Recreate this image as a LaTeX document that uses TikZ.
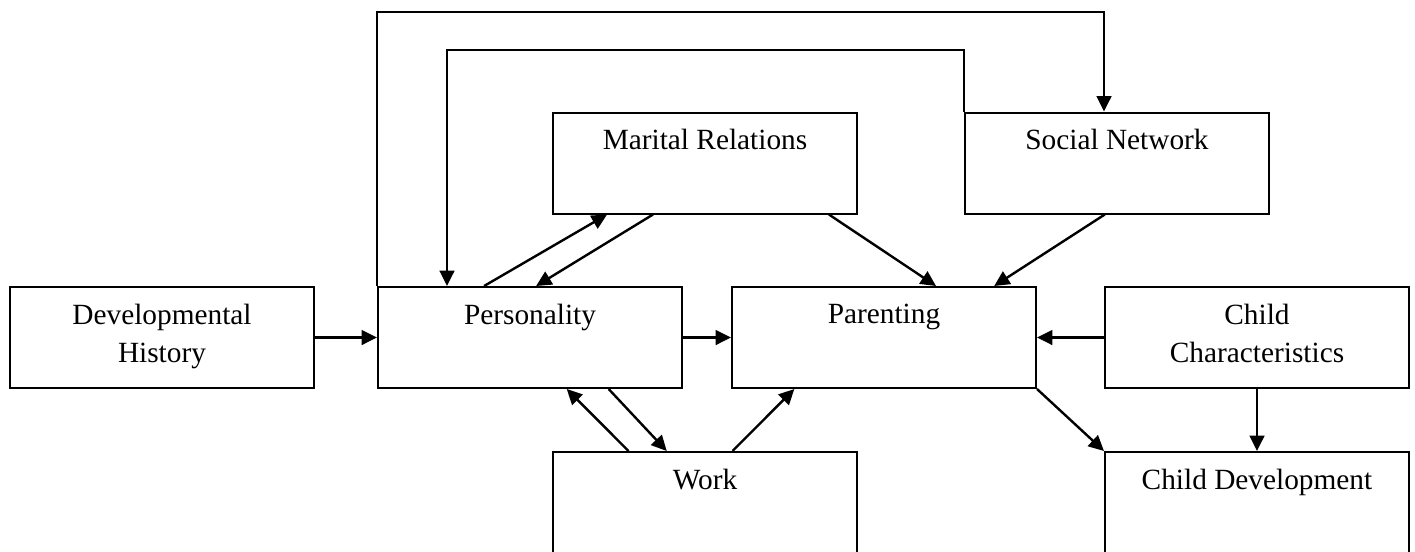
\documentclass[tikz,border=0pt]{standalone}
\usepackage{fontspec}
\setmainfont{Liberation Serif}
\usetikzlibrary{arrows.meta,calc}
\tikzset{every picture/.style={line width=0.75pt}}
\tikzset{
  factor/.style={draw, rectangle, line width=1.5pt, inner sep=0pt, minimum width=228pt, minimum height=75.75pt},
  factortext/.style={anchor=north, inner sep=0pt, align=center, font=\fontsize{22}{29}\selectfont},
  link/.style={line width=1.8pt, -{Triangle[length=11.5pt,width=11pt]}}
}

\begin{document}
\begin{tikzpicture}[x=0.75pt,y=0.75pt,yscale=-1,xscale=1]
\useasboundingbox (0,0) rectangle (1415,551);

%Shape: Boxes
\node[factor] (dev) at (162,337.5) {};
\node[factor] (pers) at (530,337.5) {};
\node[factor] (par) at (884,337.5) {};
\node[factor] (chr) at (1257,337.5) {};
\node[factor] (mar) at (705,163) {};
\node[factor] (soc) at (1117,163) {};
\node[factor, anchor=north, minimum height=79pt] (work) at (705,451) {};
\node[factor, anchor=north, minimum height=79pt] (cdev) at (1257,451) {};

% Text Nodes
\node[factortext] (devT) at ($(dev.north)+(0,17.3)$) {Developmental\\History};
\node[factortext] (persT) at ($(pers.north)+(0,17.3)$) {Personality};
\node[factortext] (parT) at ($(par.north)+(0,17.3)$) {Parenting};
\node[factortext] (chrT) at ($(chr.north)+(0,17.3)$) {Child\\Characteristics};
\node[factortext] (marT) at ($(mar.north)+(0,17.3)$) {Marital Relations};
\node[factortext] (socT) at ($(soc.north)+(0,17.3)$) {Social Network};
\node[factortext] (workT) at ($(work.north)+(0,17.3)$) {Work};
\node[factortext] (cdevT) at ($(cdev.north)+(0,17.3)$) {Child Development};

%Straight Lines
\draw[link] (dev.east) -- (pers.west);
\draw[link] (pers.east) -- (par.west);
\draw[link] (chr.west) -- (par.east);
\draw[link] (chr.south) -- (cdev.north);
\draw[link] (par.south east) -- (cdev.north west);
\draw[link] ($(pers.north west)!.35!(pers.north east)$) -- ($(mar.south west)!.18!(mar.south east)$);
\draw[link] ($(mar.south west)!.33!(mar.south east)$) -- ($(pers.north west)!.52!(pers.north east)$);
\draw[link] ($(mar.south west)!.905!(mar.south east)$) -- ($(par.north west)!.67!(par.north east)$);
\draw[link] ($(soc.south west)!.46!(soc.south east)$) -- ($(par.north west)!.86!(par.north east)$);
\draw[link] ($(pers.south west)!.757!(pers.south east)$) -- ($(work.north west)!.375!(work.north east)$);
\draw[link] ($(work.north west)!.25!(work.north east)$) -- ($(pers.south west)!.62!(pers.south east)$);
\draw[link] ($(work.north west)!.59!(work.north east)$) -- ($(par.south west)!.207!(par.south east)$);

%Feedback Lines
\coordinate (outer) at (1104,12);
\coordinate (inner) at (447,50);
\draw[link] (pers.north west) |- (outer) -- (outer |- soc.north);
\draw[link] (soc.north west) |- (inner) -- (inner |- pers.north);

\end{tikzpicture}
\end{document}
